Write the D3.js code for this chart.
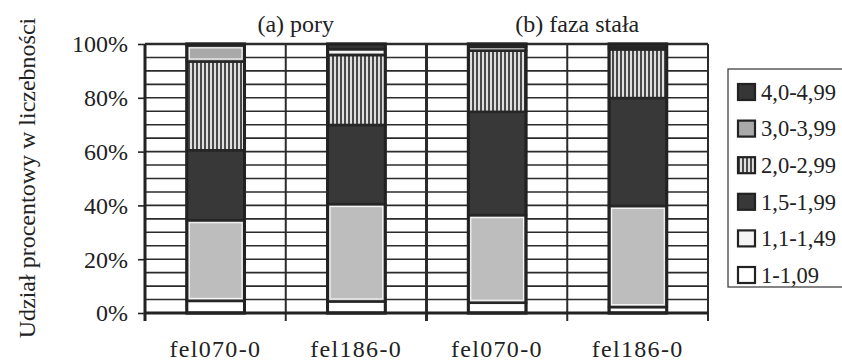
<html>
  <head>
    <meta charset="utf-8">
    <script src="https://d3js.org/d3.v7.min.js"></script>
    <style>
      body { margin: 0; background: #fff; }
      svg { font-family: "Liberation Serif", "Times New Roman", serif; }
      .grid line { stroke: #2b2b2b; stroke-width: 1.6; }
    </style>
  </head>
  <body>
    <div id="root"></div>
  </body>
  <script>
// kategorie i serie (udzial %, od dolu slupka)
var categories = ["fel070-0", "fel186-0", "fel070-0", "fel186-0"];
var panels = ["(a) pory", "(b) faza stała"];
var seriesNames = ["1-1,09", "1,1-1,49", "1,5-1,99", "2,0-2,99", "3,0-3,99", "4,0-4,99"];
var s1 = [4.5, 4.3, 3.8, 2.2];     // 1-1,09
var s2 = [30.0, 36.2, 32.6, 37.6]; // 1,1-1,49
var s3 = [26.0, 29.4, 38.4, 40.1]; // 1,5-1,99
var s4 = [33.0, 26.0, 22.7, 18.1]; // 2,0-2,99
var s5 = [6.0, 2.2, 1.5, 0.8];     // 3,0-3,99
var s6 = [0.5, 1.9, 1.0, 1.2];     // 4,0-4,99
var yTicks = [0, 20, 40, 60, 80, 100];

var W = 842, H = 362;
var pLeft = 145, pRight = 708, pTop = 44, pBottom = 313;
var serif = "'Liberation Serif', 'Times New Roman', serif";

var series = [s1, s2, s3, s4, s5, s6];
var rows = categories.map(function(c, i) {
  var r = {i: i};
  seriesNames.forEach(function(n, k) { r[n] = series[k][i]; });
  return r;
});
var stacked = d3.stack().keys(seriesNames)(rows);

var fills = {
  "1-1,09": "#ffffff",
  "1,1-1,49": "#bdbdbd",
  "1,5-1,99": "#383838",
  "2,0-2,99": "url(#stripes)",
  "3,0-3,99": "#a9a9a9",
  "4,0-4,99": "#363636"
};
var legendFills = Object.assign({}, fills, {"1,1-1,49": "#f4f4f4"});

var x = d3.scaleBand().domain(d3.range(categories.length)).range([pLeft, pRight]).padding(0);
var y = d3.scaleLinear().domain([0, 100]).range([pBottom, pTop]);

var svg = d3.select("#root").append("svg")
  .attr("width", W).attr("height", H);

// wzor pionowych paskow
var pat = svg.append("defs").append("pattern")
  .attr("id", "stripes").attr("patternUnits", "userSpaceOnUse")
  .attr("width", 4).attr("height", 4);
pat.append("rect").attr("width", 4).attr("height", 4).attr("fill", "#dedede");
pat.append("line").attr("x1", 1).attr("x2", 1).attr("y1", 0).attr("y2", 4)
  .attr("stroke", "#222").attr("stroke-width", 1.6);

/* siatka pozioma co 5% */
svg.append("g").attr("class", "grid")
  .selectAll("line").data(d3.range(0, 101, 5)).enter()
  .append("line")
  .attr("x1", pLeft).attr("x2", pRight)
  .attr("y1", d => y(d)).attr("y2", d => y(d));

/* linie pionowe miedzy kategoriami + ramka */
var vlines = d3.range(1, categories.length).map(i => x(i)).concat([pRight]);
svg.append("g")
  .selectAll("line").data(vlines).enter()
  .append("line")
  .attr("x1", d => d).attr("x2", d => d)
  .attr("y1", pTop).attr("y2", pBottom + 8)
  .attr("stroke", "#2b2b2b")
  .attr("stroke-width", (d, i) => i === 1 ? 3 : 2);

svg.append("line")
  .attr("x1", pLeft).attr("x2", pRight).attr("y1", pTop).attr("y2", pTop)
  .attr("stroke", "#2b2b2b").attr("stroke-width", 2.5);

/* slupki */
var bw = x.bandwidth() * 0.41;
var off = x.bandwidth() * 0.297;
var layers = svg.append("g").selectAll("g")
  .data(stacked).enter().append("g");

layers.selectAll("rect.seg")
  .data(d => d.map(p => ({key: d.key, p: p}))).enter()
  .append("rect").attr("class", "seg")
  .attr("x", d => x(d.p.data.i) + off)
  .attr("width", bw)
  .attr("y", d => y(d.p[1]))
  .attr("height", d => y(d.p[0]) - y(d.p[1]))
  .attr("fill", d => fills[d.key])
  .attr("stroke", "#262626")
  .attr("stroke-width", 2.5);

// biala wewnetrzna obwodka jasnych segmentow
layers.filter(d => d.key === "1,1-1,49" || d.key === "3,0-3,99")
  .selectAll("rect.inner")
  .data(d => d.map(p => ({key: d.key, p: p}))).enter()
  .append("rect").attr("class", "inner")
  .attr("x", d => x(d.p.data.i) + off + 2.5)
  .attr("width", bw - 5)
  .attr("y", d => y(d.p[1]) + 2.5)
  .attr("height", d => Math.max(0, y(d.p[0]) - y(d.p[1]) - 5))
  .attr("fill", "none")
  .attr("stroke", "#f4f4f4")
  .attr("stroke-width", 1.2);

// obrys calego slupka
svg.append("g").selectAll("rect")
  .data(rows).enter().append("rect")
  .attr("x", d => x(d.i) + off)
  .attr("width", bw)
  .attr("y", y(100))
  .attr("height", y(0) - y(100))
  .attr("fill", "none")
  .attr("stroke", "#222")
  .attr("stroke-width", 3);

/* osie */
var yAxis = d3.axisLeft(y).tickValues(yTicks).tickFormat(d => d + "%").tickSize(7).tickPadding(10);
var gy = svg.append("g").attr("transform", `translate(${pLeft},0)`).call(yAxis);
gy.select(".domain").remove();
gy.selectAll(".tick line").attr("stroke", "#222").attr("stroke-width", 1.6);
gy.selectAll(".tick text").attr("dy", "0.33em")
  .style("font-family", serif)
  .style("font-size", "24px").style("fill", "#222");
svg.append("line")
  .attr("x1", pLeft).attr("x2", pLeft).attr("y1", pTop).attr("y2", pBottom + 8)
  .attr("stroke", "#222").attr("stroke-width", 3);

var xAxis = d3.axisBottom(x).tickFormat(i => categories[i]).tickSize(0).tickPadding(27);
var gx = svg.append("g").attr("transform", `translate(0,${pBottom})`).call(xAxis);
gx.select(".domain").remove();
gx.selectAll(".tick text")
  .style("font-family", serif)
  .style("font-size", "24px").style("letter-spacing", "1.3px").style("fill", "#222");
svg.append("line")
  .attr("x1", pLeft).attr("x2", pRight).attr("y1", pBottom).attr("y2", pBottom)
  .attr("stroke", "#222").attr("stroke-width", 3);

/* tytuly paneli */
svg.selectAll("text.panel")
  .data(panels).enter().append("text")
  .attr("class", "panel")
  .attr("x", (d, i) => (x(i * 2) + x(i * 2 + 1) + x.bandwidth()) / 2 + 10)
  .attr("y", 32)
  .attr("text-anchor", "middle")
  .attr("font-size", "24px")
  .attr("fill", "#222")
  .text(d => d);

/* tytul osi Y */
svg.append("text")
  .attr("transform", "translate(35,178) rotate(-90)")
  .attr("text-anchor", "middle")
  .attr("font-size", "24px")
  .attr("fill", "#222")
  .text("Udział procentowy w liczebności");

/* legenda */
var leg = svg.append("g");
leg.append("rect")
  .attr("x", 728).attr("y", 69).attr("width", 120).attr("height", 218)
  .attr("fill", "#fff").attr("stroke", "#333").attr("stroke-width", 1.2);
var items = leg.selectAll("g.item")
  .data(seriesNames.slice().reverse()).enter()
  .append("g").attr("class", "item")
  .attr("transform", (d, i) => `translate(738,${92 + i * 36.6})`);
items.append("rect")
  .attr("x", 0).attr("y", -8).attr("width", 17).attr("height", 16)
  .attr("fill", d => legendFills[d])
  .attr("stroke", "#222").attr("stroke-width", 2.2);
items.append("text")
  .attr("x", 23).attr("y", 0).attr("dy", "0.35em")
  .attr("font-size", "22.5px").attr("fill", "#222")
  .text(d => d);
  </script>
</html>
